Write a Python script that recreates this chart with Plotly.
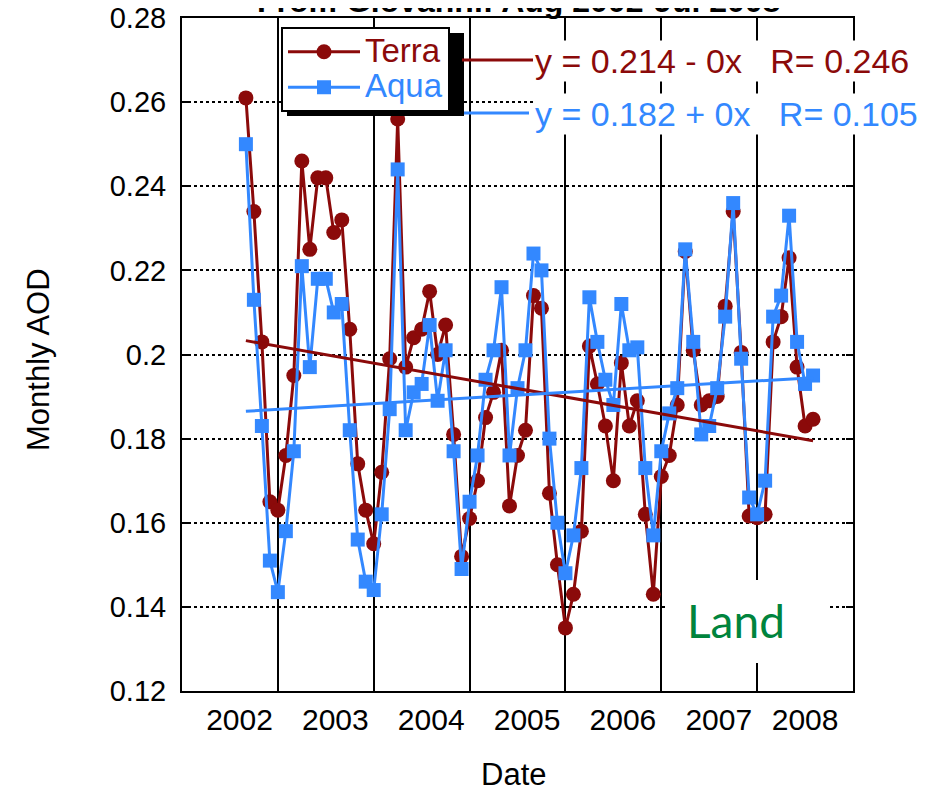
import plotly.graph_objects as go

# ---------------- data ----------------
months = [f"{2002 + (7 + k) // 12}-{(7 + k) % 12 + 1:02d}" for k in range(72)]  # Aug 2002 .. Jul 2008

terra = [0.261, 0.234, 0.203, 0.165, 0.163, 0.176, 0.195, 0.246, 0.225, 0.242,
         0.242, 0.229, 0.232, 0.206, 0.174, 0.163, 0.155, 0.172, 0.199, 0.256,
         0.197, 0.204, 0.206, 0.215, 0.200, 0.207, 0.181, 0.152, 0.161, 0.170,
         0.185, 0.191, 0.201, 0.164, 0.176, 0.182, 0.214, 0.211, 0.167, 0.150,
         0.135, 0.143, 0.158, 0.202, 0.193, 0.183, 0.170, 0.198, 0.183, 0.189,
         0.162, 0.143, 0.171, 0.176, 0.188, 0.2245, 0.201, 0.188, 0.189, 0.190,
         0.2115, 0.234, 0.2005, 0.1616, 0.1612, 0.162, 0.203, 0.209, 0.223, 0.197,
         0.183, 0.1846]

aqua = [0.250, 0.213, 0.183, 0.151, 0.1435, 0.158, 0.177, 0.221, 0.197, 0.218,
        0.218, 0.210, 0.212, 0.182, 0.156, 0.146, 0.144, 0.162, 0.187, 0.244,
        0.182, 0.191, 0.193, 0.207, 0.189, 0.201, 0.177, 0.149, 0.165, 0.176,
        0.194, 0.201, 0.216, 0.176, 0.192, 0.201, 0.224, 0.220, 0.180, 0.160,
        0.148, 0.157, 0.173, 0.2136, 0.203, 0.194, 0.188, 0.212, 0.201, 0.2017,
        0.173, 0.157, 0.177, 0.186, 0.192, 0.225, 0.203, 0.181, 0.183, 0.192,
        0.209, 0.236, 0.199, 0.166, 0.162, 0.170, 0.209, 0.214, 0.233, 0.203,
        0.193, 0.195]

trend_months = ["2002-08", "2008-07"]
terra_trend = [0.2033, 0.1795]
aqua_trend = [0.1865, 0.1945]

year_labels = ["2002", "2003", "2004", "2005", "2006", "2007", "2008"]
year_label_pos = [2002.6, 2003.6, 2004.6, 2005.6, 2006.6, 2007.6, 2008.5]
grid_years = [2003, 2004, 2005, 2006, 2007, 2008]
y_ticks = [0.12, 0.14, 0.16, 0.18, 0.20, 0.22, 0.24, 0.26, 0.28]
y_ticktext = ["0.12", "0.14", "0.16", "0.18", "0.2", "0.22", "0.24", "0.26", "0.28"]

terra_eq = "y = 0.214 - 0x\u00a0\u00a0\u00a0R= 0.246"
aqua_eq = "y = 0.182 + 0x\u00a0\u00a0\u00a0R= 0.105"
title_text = "From Giovanni: Aug 2002-Jul 2008"


def to_year(m):
    return int(m[:4]) + int(m[5:]) / 12.0


x = [to_year(m) for m in months]
tx = [to_year(m) for m in trend_months]

TERRA = "#8B0A0A"
AQUA = "#3388FF"
FONT = "Liberation Sans, Arial, Helvetica, sans-serif"

# page offset (body margin) and plot area in reference pixels
OFF = 8
L, R, T, B = 182, 853, 18, 691
W, H = 928 - OFF, 791 - OFF


def px(xp):
    return (xp - L) / (R - L)


def py(yp):
    return (B - yp) / (B - T)


def colored(name, color):
    return f"<span style='color:{color};font-size:33px'>{name}</span>"


fig = go.Figure()
fig.add_trace(go.Scatter(x=x, y=terra, name=colored("Terra", TERRA), mode="lines+markers",
                         line=dict(color=TERRA, width=3),
                         marker=dict(symbol="circle", size=15, color=TERRA)))
fig.add_trace(go.Scatter(x=x, y=aqua, name=colored("Aqua", AQUA), mode="lines+markers",
                         line=dict(color=AQUA, width=3),
                         marker=dict(symbol="square", size=14, color=AQUA)))
fig.add_trace(go.Scatter(x=tx, y=terra_trend, mode="lines", showlegend=False,
                         line=dict(color=TERRA, width=3), hoverinfo="skip"))
fig.add_trace(go.Scatter(x=tx, y=aqua_trend, mode="lines", showlegend=False,
                         line=dict(color=AQUA, width=3), hoverinfo="skip"))
# carrier for the label axis
fig.add_trace(go.Scatter(x=[2002.5], y=[None], xaxis="x2", showlegend=False,
                         hoverinfo="skip", mode="markers"))

fig.update_layout(
    width=W, height=H,
    margin=dict(l=L - OFF, r=(928 - R), t=T - OFF, b=(791 - B), autoexpand=False),
    plot_bgcolor="white", paper_bgcolor="white",
    font=dict(family=FONT, color="black", size=30),
    xaxis=dict(range=[2002, 2009], tickvals=grid_years, showticklabels=False,
               showgrid=True, gridcolor="black", gridwidth=2,
               showline=True, linecolor="black", linewidth=2, mirror=True,
               ticks="", zeroline=False, automargin=False),
    xaxis2=dict(overlaying="x", range=[2002, 2009], tickvals=year_label_pos,
                ticktext=year_labels, showgrid=False, showline=False, ticks="",
                side="bottom", zeroline=False, ticklabelstandoff=8, automargin=False,
                tickfont=dict(size=30, family=FONT)),
    yaxis=dict(range=[0.12, 0.28], tickvals=y_ticks, ticktext=y_ticktext,
               showgrid=True, gridcolor="black", gridwidth=2, griddash="dot",
               showline=True, linecolor="black", linewidth=2, mirror="ticks",
               ticks="inside", ticklen=7, tickwidth=2, tickcolor="black",
               ticklabelstandoff=8, zeroline=False, automargin=False,
               ticklabeloverflow="allow",
               tickfont=dict(size=29, family=FONT)),
    legend=dict(x=px(281), y=py(27), xanchor="left", yanchor="top",
                bgcolor="white", bordercolor="black", borderwidth=2,
                font=dict(size=25, family=FONT), itemwidth=72,
                tracegroupgap=0),
    showlegend=True,
)

shapes = [
    # legend drop shadow
    dict(type="rect", xref="paper", yref="paper", x0=px(287), x1=px(464),
         y0=py(116), y1=py(33), fillcolor="black", line=dict(width=0), layer="above"),
    # equation line samples
    dict(type="line", xref="paper", yref="paper", x0=px(462), x1=px(533),
         y0=py(60), y1=py(60), line=dict(color=TERRA, width=3), layer="above"),
    dict(type="line", xref="paper", yref="paper", x0=px(464), x1=px(529),
         y0=py(113), y1=py(113), line=dict(color=AQUA, width=3), layer="above"),
    # white box behind "Land"
    dict(type="rect", xref="paper", yref="paper", x0=px(668), x1=px(828),
         y0=py(663), y1=py(580), fillcolor="white", line=dict(width=0), layer="above"),
]
fig.update_layout(shapes=shapes)

annotations = [
    dict(text="<b>" + title_text + "</b>", xref="paper", yref="paper",
         x=px(518), y=py(21), xanchor="center", yanchor="bottom", showarrow=False,
         font=dict(size=32, family=FONT, color="black")),
    dict(text="Monthly AOD", xref="paper", yref="paper", x=px(38), y=py(360),
         xanchor="center", yanchor="middle", textangle=-90, showarrow=False,
         font=dict(size=31, family=FONT, color="black")),
    dict(text="Date", xref="paper", yref="paper", x=px(513), y=py(774),
         xanchor="center", yanchor="middle", showarrow=False,
         font=dict(size=31, family=FONT, color="black")),
    dict(text=terra_eq, xref="paper", yref="paper", x=px(533), y=py(61),
         xanchor="left", yanchor="middle", showarrow=False, bgcolor="white",
         font=dict(size=34, family=FONT, color=TERRA)),
    dict(text=aqua_eq, xref="paper", yref="paper", x=px(533), y=py(114),
         xanchor="left", yanchor="middle", showarrow=False, bgcolor="white",
         font=dict(size=34, family=FONT, color=AQUA)),
    dict(text="Land", xref="paper", yref="paper", x=px(736), y=py(620),
         xanchor="center", yanchor="middle", showarrow=False,
         font=dict(size=46, family="Lato, Open Sans, sans-serif", color="#00843D")),
]
fig.update_layout(annotations=annotations)

fig.write_html("out.html")
